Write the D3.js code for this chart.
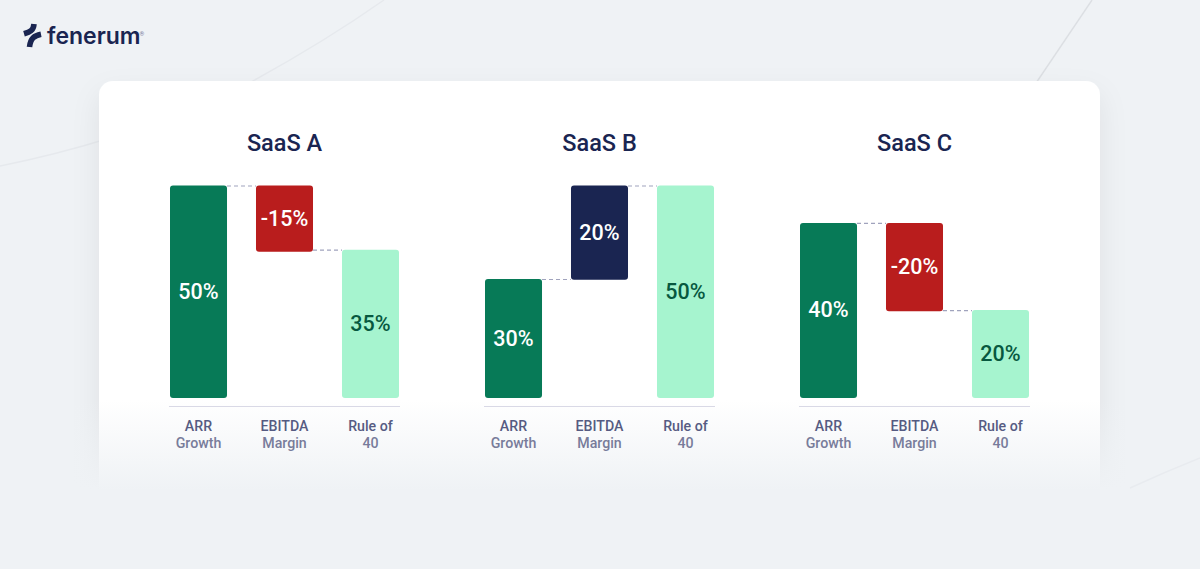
<!DOCTYPE html>
<html>
<head>
<meta charset="utf-8">
<script src="https://cdn.jsdelivr.net/npm/d3@7"></script>
<style>
	html, body { margin: 0; padding: 0; background: #eff2f5; overflow: hidden; }
	svg { display: block; font-family: Roboto, sans-serif; }
</style>
</head>
<body>
<div id="chart"></div>
<script>
	// values as labelled on the bars
	var panels = ["SaaS A", "SaaS B", "SaaS C"];
	var categories = ["ARR Growth", "EBITDA Margin", "Rule of 40"];
	var valueLabels = [
		["50%", "-15%", "35%"],
		["30%", "20%", "50%"],
		["40%", "-20%", "20%"]
	];
	// bar extents as drawn in the picture (it is not strictly to scale)
	var barStart = [
		[0, 50, 0],
		[0, 27.8, 0],
		[0, 41.2, 0]
	];
	var barEnd = [
		[50, 34.4, 34.9],
		[28, 50, 50],
		[41.2, 20.4, 20.7]
	];

	var width = 1200;
	var height = 569;
	var bg = "#eff2f5";

	var svg = d3.select("#chart").append("svg")
		.attr("width", width)
		.attr("height", height);

	var def = svg.append("defs");

	var shadow = def.append("filter")
		.attr("id", "cardShadow")
		.attr("x", "-10%").attr("y", "-20%")
		.attr("width", "120%").attr("height", "140%");
	shadow.append("feDropShadow")
		.attr("dx", 0).attr("dy", 12)
		.attr("stdDeviation", 14)
		.attr("flood-color", "#1a2551")
		.attr("flood-opacity", 0.07);

	var fade = def.append("linearGradient")
		.attr("id", "fade")
		.attr("x1", "0%").attr("y1", "0%")
		.attr("x2", "0%").attr("y2", "100%");
	fade.append("stop").attr("offset", "0%").style("stop-color", bg).style("stop-opacity", 0);
	fade.append("stop").attr("offset", "100%").style("stop-color", bg).style("stop-opacity", 1);

	// faint curves behind the card
	var curves = [
		"M240,88 Q320,45 384,0",
		"M0,166 Q55,155 110,138",
		"M1030,92 L1092,0"
	];
	svg.selectAll(".curve").data(curves).enter().append("path")
		.attr("class", "curve")
		.attr("d", function(d) { return d; })
		.attr("fill", "none")
		.attr("stroke", function(d, i) { return i === 2 ? "#dcdfe3" : "#e6e9ed"; })
		.attr("stroke-width", 1.4);

	// logo
	var logo = svg.append("g").attr("class", "logo");
	logo.append("path")
		.attr("d", "M34,24 C33.5,30.5 30,32 24,33.8 M41,34.2 C34.5,35.5 30.5,38 29.5,47")
		.attr("fill", "none")
		.attr("stroke", "#1a2551")
		.attr("stroke-width", 5.6);
	logo.append("text")
		.attr("x", 47).attr("y", 43.5)
		.attr("font-family", "Inter, sans-serif")
		.attr("font-size", 23)
		.attr("font-weight", 600)
		.attr("fill", "#1a2551")
		.text("fenerum");
	logo.append("text")
		.attr("x", 139.5).attr("y", 36)
		.attr("font-size", 6)
		.attr("fill", "#7b809c")
		.text("®");

	// card
	svg.append("rect")
		.attr("x", 99).attr("y", 81)
		.attr("width", 1001).attr("height", 420)
		.attr("rx", 14)
		.attr("fill", "#fff")
		.attr("filter", "url(#cardShadow)");

	// card dissolves into the page at the bottom, under the panels
	svg.append("rect")
		.attr("x", 0).attr("y", 400)
		.attr("width", width).attr("height", 90)
		.attr("fill", "url(#fade)");
	svg.append("rect")
		.attr("x", 0).attr("y", 490)
		.attr("width", width).attr("height", 79)
		.attr("fill", bg);
	svg.append("path")
		.attr("d", "M1130,488 Q1165,472 1200,458")
		.attr("fill", "none")
		.attr("stroke", "#e8ebef")
		.attr("stroke-width", 1.4);

	var y = d3.scaleLinear().domain([0, 50]).range([398, 185.5]);

	function barColor(p, c) {
		if (c === 0) return "#077a57";
		if (c === 2) return "#a6f4cf";
		return valueLabels[p][c].charAt(0) === "-" ? "#b91d1d" : "#1a2551";
	}

	panels.forEach(function(name, p) {
		var left = 170 + p * 315;
		var x = d3.scaleBand()
			.domain(categories)
			.range([left, left + 229])
			.paddingInner(0.337);

		var g = svg.append("g").attr("class", "panel");

		g.append("text")
			.attr("x", left + 114.5)
			.attr("y", 151)
			.attr("text-anchor", "middle")
			.attr("font-size", 23.5)
			.attr("font-weight", 500)
			.attr("fill", "#1a2551")
			.text(name);

		// dashed connectors: first at the top of bar one, second at the top of the last bar
		var linkLevel = [barEnd[p][0], barEnd[p][2]];
		g.selectAll(".link").data(categories.slice(1)).enter().append("line")
			.attr("class", "link")
			.attr("x1", function(d, i) { return x(categories[i]) + x.bandwidth(); })
			.attr("x2", function(d) { return x(d); })
			.attr("y1", function(d, i) { return y(linkLevel[i]) + 0.5; })
			.attr("y2", function(d, i) { return y(linkLevel[i]) + 0.5; })
			.attr("stroke", "#a0a3bd")
			.attr("stroke-width", 1.2)
			.attr("stroke-dasharray", "4 3");

		g.selectAll(".bar").data(categories).enter().append("rect")
			.attr("class", "bar")
			.attr("x", function(d) { return x(d); })
			.attr("width", x.bandwidth())
			.attr("y", function(d, i) { return Math.min(y(barStart[p][i]), y(barEnd[p][i])); })
			.attr("height", function(d, i) { return Math.abs(y(barStart[p][i]) - y(barEnd[p][i])); })
			.attr("rx", 3)
			.attr("fill", function(d, i) { return barColor(p, i); });

		g.selectAll(".value").data(categories).enter().append("text")
			.attr("class", "value")
			.attr("x", function(d) { return x(d) + x.bandwidth() / 2; })
			.attr("y", function(d, i) { return (y(barStart[p][i]) + y(barEnd[p][i])) / 2 - 0.5; })
			.attr("dy", "0.35em")
			.attr("text-anchor", "middle")
			.attr("font-size", 21.5)
			.attr("font-weight", 500)
			.attr("fill", function(d, i) { return i === 2 ? "#07583f" : "#fff"; })
			.text(function(d, i) { return valueLabels[p][i]; });

		// axis, tick labels split on two lines by hand
		var axis = g.append("g")
			.attr("transform", "translate(0,406.5)")
			.call(d3.axisBottom(x).tickSize(0).tickPadding(0));
		axis.select(".domain")
			.attr("d", "M" + (left - 1) + ",0H" + (left + 230))
			.attr("stroke", "#d9d9e6")
			.attr("stroke-width", 1.2);
		axis.selectAll(".tick text").each(function(d) {
			var words = d.split(" ");
			var second = words.pop();
			var t = d3.select(this).text(null)
				.attr("font-family", "Roboto, sans-serif")
				.attr("font-size", 14.2)
				.attr("font-weight", 500)
				.attr("y", 0).attr("dy", null);
			t.append("tspan").attr("x", 0).attr("y", 24).attr("fill", "#565b82").text(words.join(" "));
			t.append("tspan").attr("x", 0).attr("y", 41).attr("fill", "#787c9a").text(second);
		});
	});
</script>
</body>
</html>
